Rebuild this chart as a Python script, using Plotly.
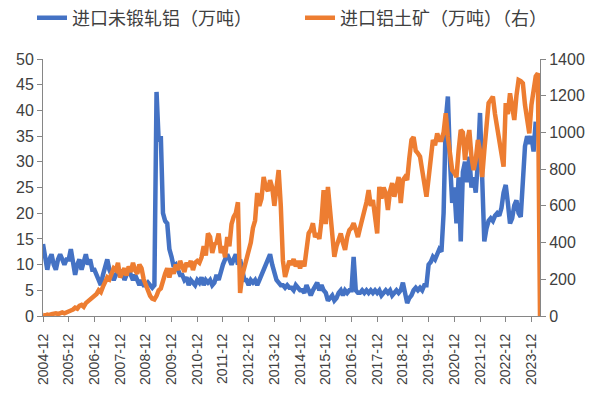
import pandas as pd
import plotly.graph_objects as go

# monthly categories 2004-12 .. 2024-04
months = [d.strftime("%Y-%m") for d in pd.date_range("2004-12-01", "2024-04-01", freq="MS")]
tick_labels = [f"{y}-12" for y in range(2004, 2024)]

# 进口未锻轧铝（万吨） left axis
aluminium = [
    14, 12, 9, 11, 12, 10, 9, 11, 12, 11, 10, 11,
    11, 13, 10, 8, 10, 11, 9, 11, 12, 10, 11, 9,
    9, 8, 7, 6, 8, 10, 11, 9, 8, 7, 8, 9,
    8, 9, 7, 8, 9, 8, 7, 8, 7, 6, 7, 6,
    6, 6.5, 6, 5.5, 6, 43.6, 34, 35, 20, 18.5, 18, 13,
    11.5, 9.6, 10, 9, 8, 8, 7, 7.5, 6, 7, 6.5, 6,
    7, 6.5, 7.5, 6, 7, 6.5, 7, 6, 6.5, 8, 7, 9,
    10, 11, 12, 11, 10, 11, 12, 10, 11, 9, 7, 7,
    6, 7, 6.5, 7, 6, 7, 8, 9, 10, 11, 12, 10,
    8, 7, 6.5, 6, 6, 5.5, 6, 5.5, 5.5, 5, 6, 5.5,
    5, 5, 4.5, 6, 5, 4, 5, 6, 6.5, 5, 6, 5,
    4.5, 3, 3.5, 4, 3, 3.5, 4.5, 5, 4, 5, 4.5, 5,
    5, 11.5, 5, 4.5, 4.5, 5, 4.5, 5, 4.5, 5, 4.5, 5,
    4.5, 5, 4, 4.5, 5, 4.5, 5, 4, 4.5, 5, 4.5, 5,
    6.5, 4, 2.5, 3.5, 4, 5, 5.5, 5, 5.5, 5, 6, 6,
    10, 10.5, 11.5, 11, 12, 13, 12.5, 20, 38, 42.7, 30, 22,
    25, 18, 27, 14.5, 28, 30, 26, 31, 25, 27, 24, 30,
    39.5, 25, 14.5, 17, 18.5, 19, 18.5, 19.5, 20, 19.5, 21, 24,
    25.5, 22, 18, 19, 21.5, 22.5, 20, 19.3, 25, 33, 35, 33.5,
    35, 32, 37.8, None, None,
]

# 进口铝土矿（万吨） right axis
bauxite = [
    5, 3, 8, 5, 10, 12, 15, 10, 18, 20, 15, 22,
    25, 30, 35, 45, 40, 55, 60, 50, 70, 80, 90, 100,
    105, 120, 140, 130, 160, 180, 210, 200, 230, 260, 250, 290,
    210, 240, 260, 220, 270, 240, 290, 250, 230, 280, 260, 200,
    170, 130, 110, 95, 90, 110, 140, 150, 200, 230, 260, 210,
    260, 230, 280, 250, 300, 260, 240, 290, 270, 300, 250, 290,
    300, 290, 320, 380, 330, 450, 430, 343, 390, 400, 450, 343,
    380, 320, 430, 380, 500, 540, 560, 620, 125, 220, 268, 300,
    350, 400, 480, 520, 670, 600, 640, 757, 700, 680, 740, 700,
    600, 700, 795, 600, 300, 213, 250, 300, 280, 310, 270, 300,
    260, 300, 270, 380, 450, 468, 505, 430, 450, 420, 520, 686,
    500, 703, 560, 400, 323, 380, 420, 450, 400, 360, 430, 468,
    480, 505, 470, 430, 480, 520, 577, 620, 686, 600, 632, 560,
    450, 703, 640, 700, 670, 577, 680, 724, 650, 703, 757, 615,
    740, 757, 741, 860, 959, 975, 900, 886, 868, 795, 703, 650,
    750, 868, 959, 930, 995, 960, 959, 1000, 1105, 975, 880, 795,
    780, 757, 900, 1013, 1000, 850, 950, 1013, 868, 795, 850, 959,
    900, 757, 900, 1031, 1160, 1177, 1195, 1100, 1031, 950, 870, 813,
    1160, 1100, 1213, 1150, 1068, 1200, 1286, 1280, 1268, 1150, 1050, 995,
    1150, 1250, 1305, 1322, 0,
]

FONT = "Arial, 'Liberation Sans', 'Noto Sans CJK SC', sans-serif"
BLUE = "#4472C4"
ORANGE = "#ED7D31"
AXIS = "#868686"
TXT = "#404040"

fig = go.Figure()
fig.add_trace(go.Scatter(x=months, y=aluminium, mode="lines", name="进口未锻轧铝（万吨）",
                         line=dict(color=BLUE, width=4.5), connectgaps=False, legend="legend"))
fig.add_trace(go.Scatter(x=months, y=bauxite, mode="lines", name="进口铝土矿（万吨）（右）",
                         line=dict(color=ORANGE, width=4.5), yaxis="y2", legend="legend2"))

leg_common = dict(orientation="h", xref="container", yref="container",
                  xanchor="left", y=1 - 18 / 396, yanchor="middle",
                  font=dict(size=18, color=TXT), bgcolor="rgba(0,0,0,0)")

fig.update_layout(
    width=595, height=396,
    margin=dict(l=43, r=55, t=59, b=80, autoexpand=False),
    paper_bgcolor="white", plot_bgcolor="white",
    font=dict(family=FONT, color=TXT, size=14),
    showlegend=True,
    legend=dict(x=32 / 595, **leg_common),
    legend2=dict(x=300 / 595, **leg_common),
    xaxis=dict(type="category", range=[0, len(months) - 1],
               tickmode="array", tickvals=tick_labels, ticktext=tick_labels,
               tickangle=-90, showline=True, linecolor=AXIS, linewidth=1,
               ticks="outside", ticklen=5, tickcolor=AXIS, ticklabelstandoff=6,
               showgrid=False, zeroline=False, tickfont=dict(size=14, color=TXT)),
    yaxis=dict(range=[0, 50], dtick=5, showline=True, linecolor=AXIS, linewidth=1,
               ticks="outside", ticklen=5, tickcolor=AXIS, showgrid=False,
               zeroline=False, tickfont=dict(size=16, color=TXT)),
    yaxis2=dict(range=[0, 1400], dtick=200, overlaying="y", side="right",
                showline=True, linecolor=AXIS, linewidth=1, ticks="outside",
                ticklen=5, tickcolor=AXIS, showgrid=False, zeroline=False,
                tickfont=dict(size=16, color=TXT)),
)

fig.write_html("out.html")
